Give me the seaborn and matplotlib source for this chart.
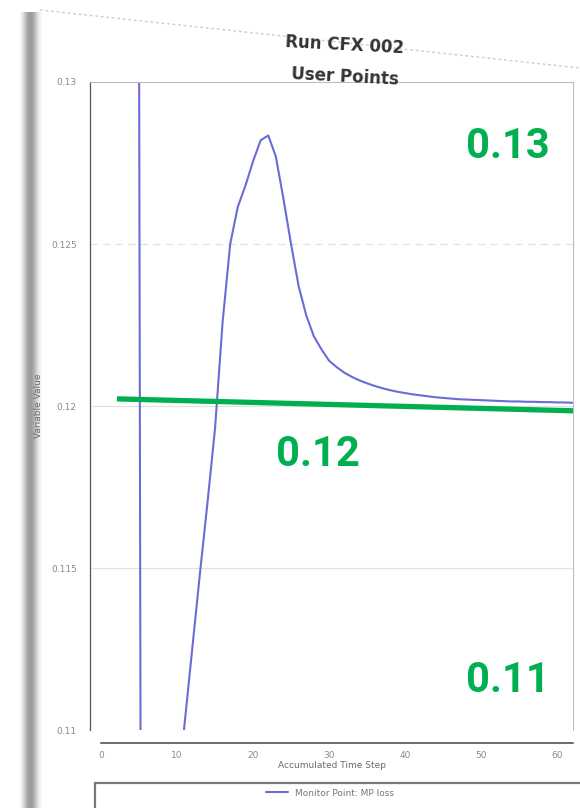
import matplotlib
matplotlib.use("Agg")
import numpy as np
import pandas as pd
import matplotlib.pyplot as plt
import seaborn as sns
from matplotlib.ticker import MultipleLocator, FuncFormatter
from matplotlib.lines import Line2D
from matplotlib.patches import Rectangle

# ---- data ----
steps = list(range(1, 63))
mp_loss = [0.35, 0.27, 0.21, 0.16, 0.132, 0.020, 0.045, 0.068, 0.088, 0.1078,
           0.1102, 0.1125, 0.1148, 0.1170, 0.1193, 0.1226, 0.1250, 0.12615, 0.1268, 0.12755,
           0.1282, 0.12835, 0.1277, 0.1264, 0.1250, 0.1237, 0.1228, 0.12215, 0.12175, 0.12140,
           0.12120, 0.12103, 0.12090, 0.12079, 0.12070, 0.12062, 0.12055, 0.12049, 0.12044, 0.12040,
           0.12036, 0.12033, 0.12030, 0.12027, 0.12025, 0.12023, 0.12021, 0.12020, 0.12019, 0.12018,
           0.12017, 0.12016, 0.12015, 0.12014, 0.12014, 0.12013, 0.12013, 0.12012, 0.12012, 0.12011,
           0.12011, 0.12010]
x_ticks = [0, 10, 20, 30, 40, 50, 60]
y_ticks = [0.11, 0.115, 0.12, 0.125, 0.13]
title_lines = ["Run CFX 002", "User Points"]
series_name = "Monitor Point: MP loss"
x_label = "Accumulated Time Step"
y_label = "Variable Value"
note_labels = ["0.13", "0.12", "0.11"]
green_line_x = [2.1, 62.4]
green_line_y = [0.12022, 0.11985]

df = pd.DataFrame({"step": steps, "value": mp_loss})

sns.set_style("white")
plt.rcParams["font.family"] = ["DejaVu Sans"]

fig = plt.figure(figsize=(5.8, 8.08), dpi=100)
fig.patch.set_facecolor("white")

# photo-like left edge strip
strip = fig.add_axes([20 / 580, 0, 22 / 580, 1 - 12 / 808])
grad = np.array([[0.97, 0.85, 0.72, 0.62, 0.6, 0.66, 0.78, 0.9, 0.97]])
strip.imshow(grad, cmap="gray", vmin=0, vmax=1, aspect="auto", interpolation="bicubic")
strip.axis("off")

# faint paper top edge
fig.add_artist(Line2D([40 / 580, 1.0], [1 - 10 / 808, 1 - 68 / 808],
                      color="#cccccc", lw=1.0, ls=(0, (2, 2))))

ax = fig.add_axes([90 / 580, 1 - 730 / 808, (573 - 90) / 580, (730 - 82) / 808])
line_color = "#6b6bd8"
sns.lineplot(data=df, x="step", y="value", ax=ax, color=line_color, lw=1.5,
             label=series_name, legend=False)

ax.set_xlim(-1.45, 62.1)
ax.set_ylim(0.11, 0.13)

# grid lines
for yv in y_ticks[1:-1]:
    ax.axhline(yv, color="#e2e2e2", lw=0.9, ls=(0, (6, 4)) if yv == 0.125 else "-", zorder=0)

# green annotation line
ax.plot(green_line_x, green_line_y, color="#00B050", lw=3.8, solid_capstyle="butt", zorder=5)

# spines
for s in ["top", "right"]:
    ax.spines[s].set_color("#bdbdbd")
    ax.spines[s].set_linewidth(0.8)
ax.spines["left"].set_color("#555555")
ax.spines["left"].set_linewidth(0.9)
ax.spines["bottom"].set_color("#444444")
ax.spines["bottom"].set_linewidth(1.1)
ax.spines["bottom"].set_position(("outward", 9))
ax.spines["bottom"].set_bounds(0, 62.1)

ax.set_xticks(x_ticks)
ax.xaxis.set_minor_locator(MultipleLocator(2))
ax.set_yticks(y_ticks)
ax.yaxis.set_minor_locator(MultipleLocator(0.001))
ax.yaxis.set_major_formatter(FuncFormatter(lambda v, p: f"{v:g}"))
ax.tick_params(axis="both", which="major", direction="out", length=6, width=0.9,
               color="#555555", labelsize=6.5, labelcolor="#8a8a8a")
ax.tick_params(axis="both", which="minor", direction="inout", length=4, width=0.7,
               color="#555555")
ax.tick_params(axis="x", which="major", length=5, pad=1)

ax.set_xlabel(x_label, fontsize=6.5, color="#6a6a6a", labelpad=1)
ax.set_ylabel(y_label, fontsize=6.5, color="#6a6a6a", labelpad=6)

# title
fig.text(345 / 580, 1 - 45 / 808, title_lines[0], ha="center", va="center",
         fontsize=12, fontweight="bold", color="#333333", rotation=-3)
fig.text(345 / 580, 1 - 77 / 808, title_lines[1], ha="center", va="center",
         fontsize=12, fontweight="bold", color="#333333", rotation=-3)

# green value notes
note_pos = [(508, 147), (318, 455), (508, 681)]
for txt, (px, py) in zip(note_labels, note_pos):
    fig.text(px / 580, 1 - py / 808, txt, ha="center", va="center",
             fontsize=30, fontweight="bold", color="#00B050", family=["Roboto", "DejaVu Sans"])

# legend box at bottom
fig.add_artist(Rectangle((95 / 580, -0.02), 1.0, (808 - 783) / 808 + 0.02,
                         transform=fig.transFigure, facecolor="white",
                         edgecolor="#777777", lw=1.6))
handle = Line2D([], [], color=line_color, lw=1.5)
fig.legend([handle], [series_name], loc="center",
           bbox_to_anchor=(330 / 580, 1 - 793 / 808), frameon=False,
           fontsize=6.5, labelcolor="#777777", handlelength=2.5)

fig.savefig("out.png", dpi=100)
